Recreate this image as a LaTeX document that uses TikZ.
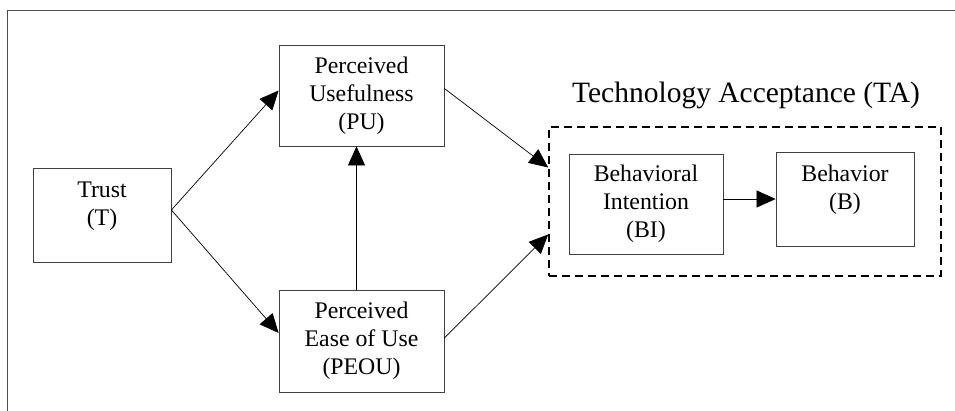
\documentclass[tikz,border=0pt]{standalone}
\usepackage{fontspec}
\setmainfont{Liberation Serif}
\usetikzlibrary{arrows.meta,positioning}
\tikzset{
  bx/.style={rectangle,draw=black!75,line width=0.8pt,inner sep=0pt,align=center,
    font=\fontsize{23.8}{28}\selectfont},
  lbl/.style={inner sep=0pt,align=center,font=\fontsize{23.8}{28}\selectfont},
  grp/.style={rectangle,draw,line width=1.6pt,dash pattern=on 8pt off 5pt,inner sep=0pt},
  ar/.style={-{Triangle[length=19pt,width=17pt]},line width=0.7pt},
}
\begin{document}
\begin{tikzpicture}[x=1pt,y=-1pt]
  \useasboundingbox (0,0) rectangle (955,411);
  \draw[black!70,line width=0.9pt] (7,411) -- (7,10) -- (955,10);

  \node[bx,minimum width=138pt,minimum height=94pt] (trust) at (102,215) {};
  \node[lbl] (trustlbl) at (102,206) {Trust\\(T)};
  \node[bx,minimum width=165pt,minimum height=101pt] (pu) at (361.5,95.5) {Perceived\\Usefulness\\(PU)};
  \node[bx,minimum width=165pt,minimum height=102pt] (peou) at (361.5,341) {Perceived\\Ease of Use\\(PEOU)};

  \node[grp,minimum width=392pt,minimum height=149pt] (ta) at (745,201.5) {};
  \node[anchor=base,inner sep=0pt,font=\fontsize{29.5}{34}\selectfont] (talbl) at (746,103) {Technology Acceptance (TA)};
  \node[bx,minimum width=154pt,minimum height=100pt] (bi) at (646,204) {Behavioral\\Intention\\(BI)};
  \node[bx,minimum width=138pt,minimum height=94pt] (b) at (845,199) {};
  \node[lbl] (blbl) at (845,190) {Behavior\\(B)};

  \draw[ar] ([yshift=5pt]trust.east) -- ([yshift=5pt]pu.west);
  \draw[ar] ([yshift=5pt]trust.east) -- ([yshift=8pt]peou.west);
  \draw[ar] ([xshift=-5pt]peou.north) -- ([xshift=-5pt]pu.south);
  \draw[ar] ([yshift=7pt]pu.east) -- ([yshift=34pt]ta.west);
  \draw[ar] ([yshift=3pt]peou.east) -- ([yshift=-33pt]ta.west);
  \draw[ar] (bi.east |- b.west) -- (b.west);
\end{tikzpicture}
\end{document}
